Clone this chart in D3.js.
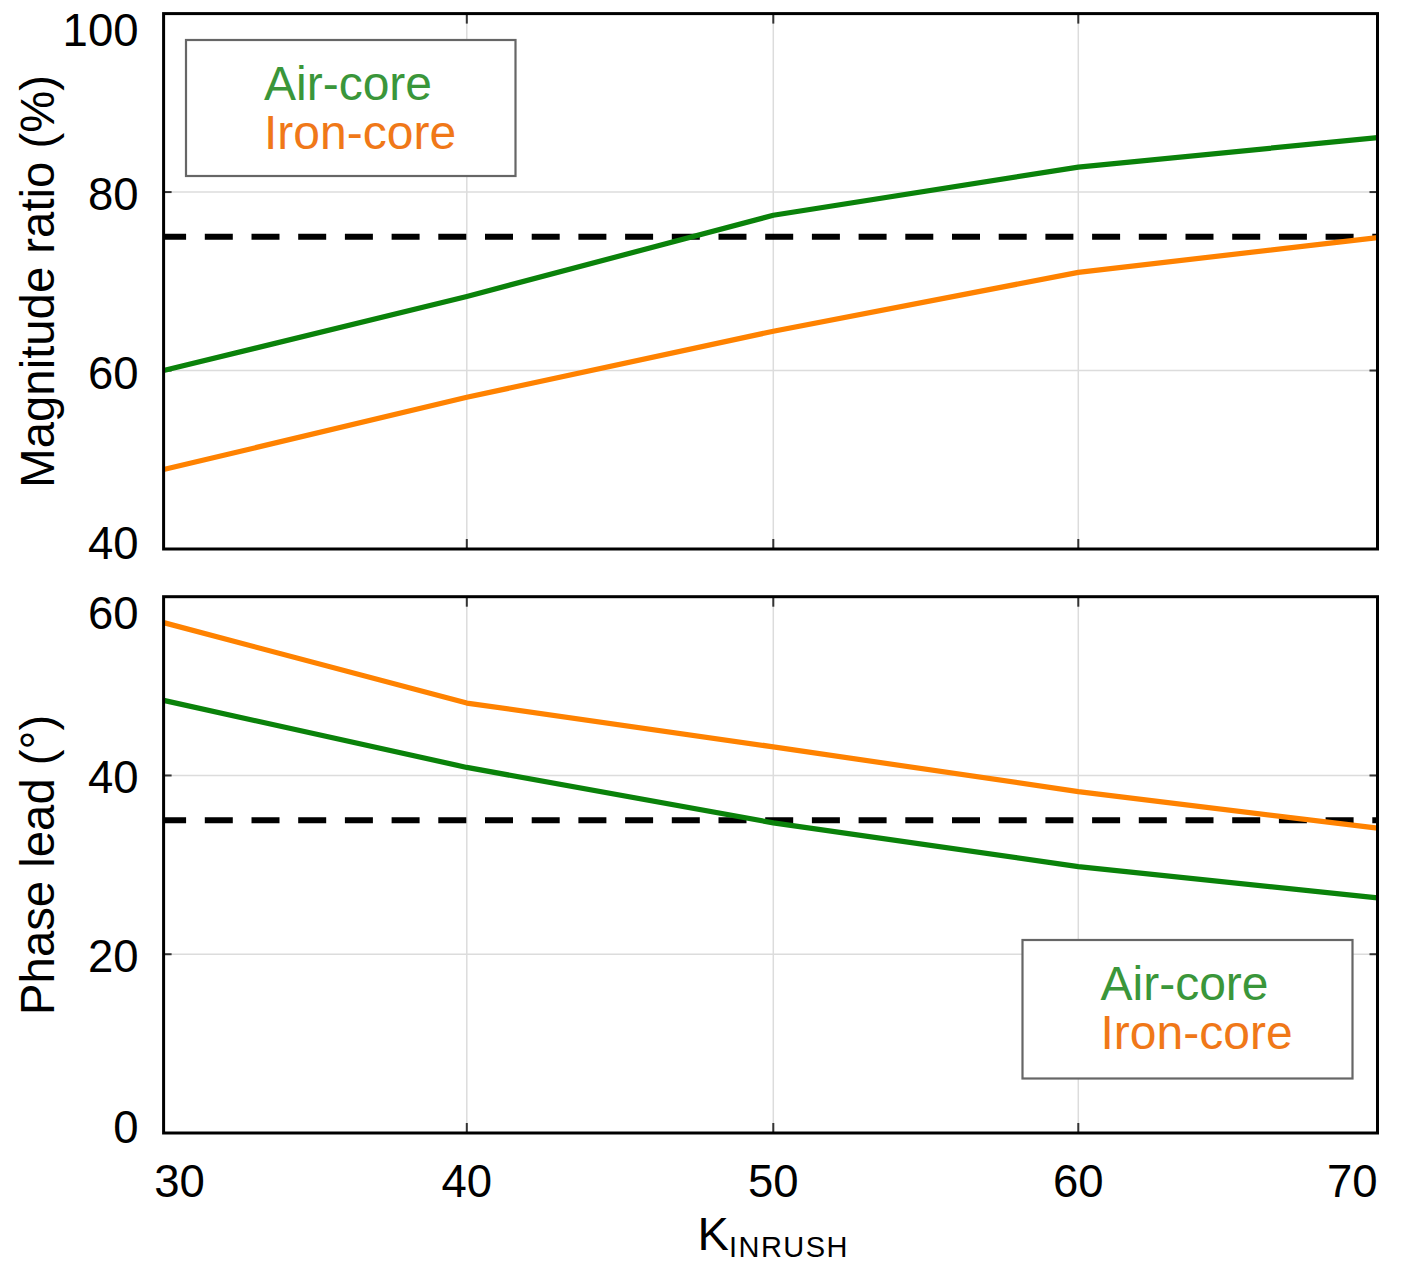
<!DOCTYPE html>
<html>
<head>
<meta charset="utf-8">
<script src="https://cdn.jsdelivr.net/npm/d3@7"></script>
<style>
  html, body { margin: 0; padding: 0; background: #fff; }
  svg { display: block; font-family: "Liberation Sans", Arial, Helvetica, sans-serif; }
</style>
</head>
<body>
<svg id="chart" width="1409" height="1262"></svg>
<script>
// ---- data ----
const kValues = [30, 40, 50, 60, 70];
const magAir = [60.0, 68.3, 77.4, 82.8, 86.1];
const magIron = [48.9, 57.0, 64.4, 71.0, 74.9];
const phaseAir = [48.4, 40.9, 34.7, 29.8, 26.3];
const phaseIron = [57.1, 48.1, 43.2, 38.2, 34.1];
const magThreshold = 75;
const phaseThreshold = 35;
const xTicks = [30, 40, 50, 60, 70];
const magTicks = [40, 60, 80, 100];
const phaseTicks = [0, 20, 40, 60];
const seriesNames = ["Air-core", "Iron-core"];

// ---- style ----
const lineColors = ["#0a820a", "#ff8200"];
const textColors = ["#3a963a", "#f07818"];

const svg = d3.select("#chart");
const left = 163.6, right = 1377.5;
const x = d3.scaleLinear().domain(xTicks).range([left, 466.8, 773.3, 1078.3, right]);

const panels = [
  { top: 13.6, bottom: 549, domain: [40, 100], ticks: magTicks, series: [magAir, magIron],
    thr: magThreshold, title: "Magnitude ratio (%)",
    legend: { x: 186, y: 40, w: 329.5, h: 136 } },
  { top: 596.7, bottom: 1133, domain: [0, 60], ticks: phaseTicks, series: [phaseAir, phaseIron],
    thr: phaseThreshold, title: "Phase lead (\u00B0)",
    legend: { x: 1022.5, y: 940, w: 330, h: 138.5 } }
];

panels.forEach((p, pi) => {
  const y = d3.scaleLinear().domain(p.domain).range([p.bottom, p.top]);
  const g = svg.append("g");
  const clipId = "clip" + pi;
  svg.append("clipPath").attr("id", clipId)
    .append("rect").attr("x", left).attr("y", p.top).attr("width", right - left).attr("height", p.bottom - p.top);

  // grid
  g.append("g").selectAll("line").data(xTicks.slice(1, -1)).join("line")
    .attr("x1", d => x(d)).attr("x2", d => x(d)).attr("y1", p.top).attr("y2", p.bottom)
    .attr("stroke", "#dcdcdc").attr("stroke-width", 1.5);
  g.append("g").selectAll("line").data(p.ticks.slice(1, -1)).join("line")
    .attr("x1", left).attr("x2", right).attr("y1", d => y(d)).attr("y2", d => y(d))
    .attr("stroke", "#dcdcdc").attr("stroke-width", 1.5);

  // inner tick marks
  const tk = g.append("g").attr("stroke", "#333").attr("stroke-width", 2);
  xTicks.slice(1, -1).forEach(d => {
    tk.append("line").attr("x1", x(d)).attr("x2", x(d)).attr("y1", p.bottom).attr("y2", p.bottom - 10);
    tk.append("line").attr("x1", x(d)).attr("x2", x(d)).attr("y1", p.top).attr("y2", p.top + 10);
  });
  p.ticks.slice(1, -1).forEach(d => {
    tk.append("line").attr("x1", left).attr("x2", left + 8).attr("y1", y(d)).attr("y2", y(d));
    tk.append("line").attr("x1", right).attr("x2", right - 8).attr("y1", y(d)).attr("y2", y(d));
  });

  // threshold dashed line
  g.append("line")
    .attr("x1", left).attr("x2", right).attr("y1", y(p.thr)).attr("y2", y(p.thr))
    .attr("stroke", "#000").attr("stroke-width", 6)
    .attr("stroke-dasharray", "28,18.7").attr("stroke-dashoffset", 5.5)
    .attr("clip-path", `url(#${clipId})`);

  // series lines
  const line = d3.line().x((d, i) => x(kValues[i])).y(d => y(d));
  p.series.forEach((s, si) => {
    g.append("path").datum(s).attr("d", line)
      .attr("fill", "none").attr("stroke", lineColors[si]).attr("stroke-width", 5.2)
      .attr("stroke-linejoin", "round")
      .attr("clip-path", `url(#${clipId})`);
  });

  // frame
  g.append("rect").attr("x", left).attr("y", p.top).attr("width", right - left).attr("height", p.bottom - p.top)
    .attr("fill", "none").attr("stroke", "#000").attr("stroke-width", 3);

  // y tick labels
  g.append("g").selectAll("text").data(p.ticks).join("text")
    .attr("x", 138.5).attr("text-anchor", "end")
    .attr("y", (d, i) => {
      if (i === 0) return p.bottom + 9.5;
      if (i === p.ticks.length - 1) return p.top + 32.5;
      return y(d) + 18;
    })
    .attr("font-size", 45.5).attr("fill", "#000").text(d => d);

  // y title
  g.append("text")
    .attr("transform", `translate(53.5,${(p.top + p.bottom) / 2}) rotate(-90)`)
    .attr("text-anchor", "middle").attr("font-size", 47.3).attr("fill", "#000")
    .text(p.title);

  // legend
  const L = p.legend;
  g.append("rect").attr("x", L.x).attr("y", L.y).attr("width", L.w).attr("height", L.h)
    .attr("fill", "#fff").attr("stroke", "#666").attr("stroke-width", 2.2);
  seriesNames.forEach((n, si) => {
    g.append("text").attr("x", L.x + 78).attr("y", L.y + 60 + si * 48.5)
      .attr("font-size", 48).attr("fill", textColors[si]).text(n);
  });
});

// x tick labels (under the bottom panel)
svg.append("g").selectAll("text").data(xTicks).join("text")
  .attr("x", (d, i) => i === 0 ? x(d) + 16 : (i === xTicks.length - 1 ? x(d) : x(d)))
  .attr("text-anchor", (d, i) => i === xTicks.length - 1 ? "end" : "middle")
  .attr("y", 1196.5)
  .attr("font-size", 45.5).attr("fill", "#000").text(d => d);

// x title: K with subscript INRUSH
const xt = svg.append("text").attr("x", x(50)).attr("y", 1250).attr("text-anchor", "middle")
  .attr("fill", "#000");
xt.append("tspan").attr("font-size", 47).text("K");
xt.append("tspan").attr("font-size", 29).attr("dy", 6.5).attr("letter-spacing", 1.5).text("INRUSH");
</script>
</body>
</html>
